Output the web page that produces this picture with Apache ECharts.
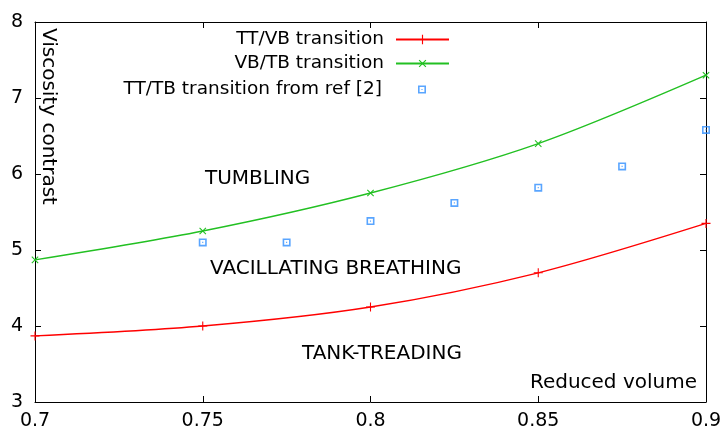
<!DOCTYPE html>
<html><head><meta charset="utf-8">
<script src="https://cdn.jsdelivr.net/npm/echarts@6/dist/echarts.min.js"></script>
<style>html,body{margin:0;padding:0;background:#fff}#c{width:726px;height:436px}</style>
</head><body><div id="c"></div>
<script>
const xTicks = [0.7, 0.75, 0.8, 0.85, 0.9];
const yTicks = [3, 4, 5, 6, 7, 8];
const ttvbX = [0.7, 0.75, 0.8, 0.85, 0.9];
const ttvbY = [3.87, 4.0, 4.25, 4.70, 5.35];
const vbtbX = [0.7, 0.75, 0.8, 0.85, 0.9];
const vbtbY = [4.87, 5.25, 5.75, 6.40, 7.30];
const refX = [0.75, 0.775, 0.8, 0.825, 0.85, 0.875, 0.9];
const refY = [5.10, 5.10, 5.38, 5.62, 5.82, 6.10, 6.58];
const names = ['TT/VB transition', 'VB/TB transition', 'TT/TB transition from ref [2]'];

const zip = (a, b) => a.map((v, i) => [v, b[i]]);
const font = 'DejaVu Sans';
const plus = 'path://M4.4,0h1.2v10h-1.2zM0,4.4h10v1.2h-10z';
const sq = 'path://M0,0H10V10H0Z M2,2V8H8V2Z M4.3,4.3h1.4v1.4h-1.4z';
const axisCommon = {
  type: 'value',
  axisLine: {show: true, onZero: false, lineStyle: {color: '#000', width: 1}},
  axisTick: {show: true, inside: true, length: 6, lineStyle: {color: '#000'}},
  splitLine: {show: false}
};
const chart = echarts.init(document.getElementById('c'));
const legendBase = (name, top, right, w, h, pad) => ({
  data: [name], right: right, top: top, itemWidth: w, itemHeight: h,
  textStyle: {fontFamily: font, fontSize: 18.5, color: '#000', padding: [0, pad, 0, 0]},
  align: 'right', selectedMode: false, padding: 0
});
chart.setOption({
  animation: false,
  textStyle: {fontFamily: font},
  grid: {left: 35, right: 20, top: 22, bottom: 34},
  legend: [
    legendBase(names[0], 30, 276, 53, 12, 7),
    legendBase(names[1], 54, 276, 53, 12, 7),
    legendBase(names[2], 80, 300, 8, 8, 31)
  ],
  xAxis: [
    Object.assign({}, axisCommon, {min: 0.7, max: 0.9, interval: 0.05, position: 'bottom',
      axisLabel: {fontFamily: font, fontSize: 19, color: '#000', margin: 10,
        formatter: v => String(parseFloat(v.toFixed(2)))}}),
    Object.assign({}, axisCommon, {min: 0.7, max: 0.9, interval: 0.05, position: 'top', axisLabel: {show: false}})
  ],
  yAxis: [
    Object.assign({}, axisCommon, {min: 3, max: 8, interval: 1, position: 'left',
      axisLabel: {fontFamily: font, fontSize: 19, color: '#000', margin: 12}}),
    Object.assign({}, axisCommon, {min: 3, max: 8, interval: 1, position: 'right', axisLabel: {show: false}})
  ],
  series: [
    {name: names[0], type: 'line', data: zip(ttvbX, ttvbY), smooth: 0.3,
      symbol: plus, symbolSize: 9, showAllSymbol: true,
      lineStyle: {color: '#ff0000', width: 1.3}, itemStyle: {color: '#ff0000'}},
    {name: names[1], type: 'line', data: zip(vbtbX, vbtbY), smooth: 0.3,
      symbol: plus, symbolSize: 9, symbolRotate: 45,
      lineStyle: {color: '#22c022', width: 1.3}, itemStyle: {color: '#22c022'}},
    {name: names[2], type: 'scatter', data: zip(refX, refY),
      symbol: sq, symbolSize: 8, itemStyle: {color: '#2f8fff'}}
  ],
  graphic: [
    {type: 'text', left: 38, top: 28, rotation: -Math.PI / 2,
      style: {text: 'Viscosity contrast', fontFamily: font, fontSize: 20, fill: '#000'}},
    {type: 'text', right: 29, top: 373,
      style: {text: 'Reduced volume', fontFamily: font, fontSize: 20, fill: '#000'}},
    {type: 'text', left: 205, top: 169,
      style: {text: 'TUMBLING', fontFamily: font, fontSize: 20, fill: '#000'}},
    {type: 'text', left: 210, top: 259,
      style: {text: 'VACILLATING BREATHING', fontFamily: font, fontSize: 20, fill: '#000'}},
    {type: 'text', left: 302, top: 344,
      style: {text: 'TANK-TREADING', fontFamily: font, fontSize: 20, fill: '#000'}}
  ]
});
</script></body></html>
